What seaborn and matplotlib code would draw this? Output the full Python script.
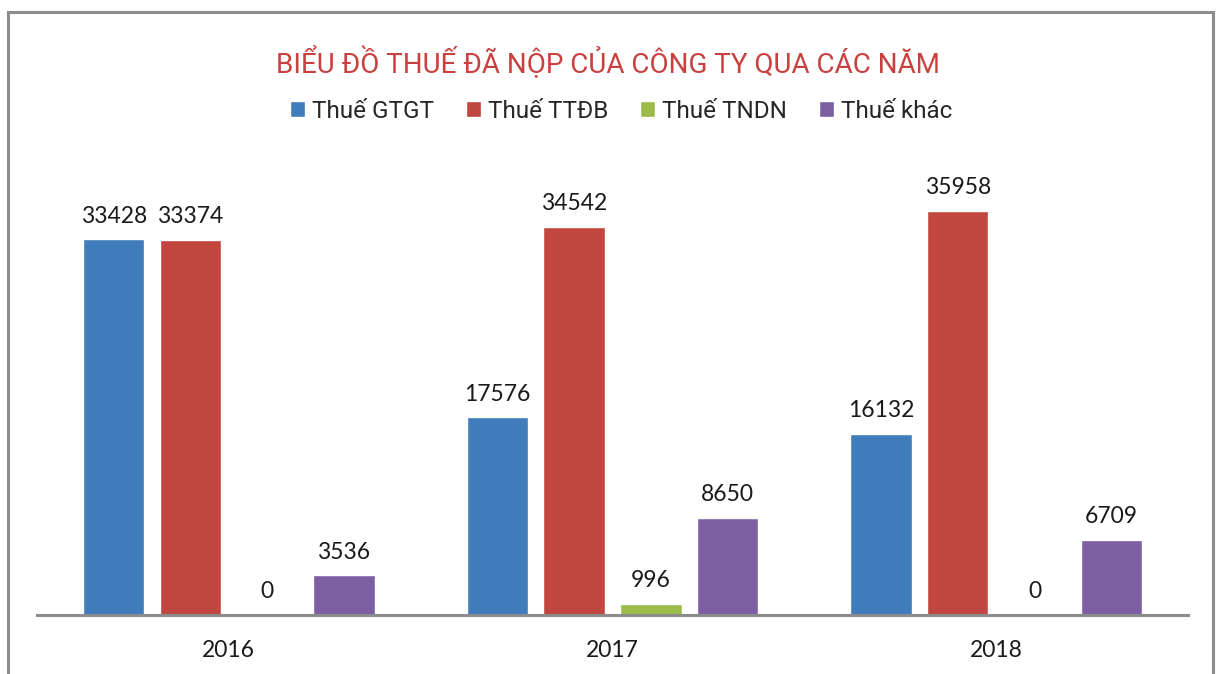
import matplotlib
matplotlib.use("Agg")
import matplotlib.pyplot as plt
from matplotlib.patches import Rectangle
import seaborn as sns
import pandas as pd

sns.set_style("white")
plt.rcParams['font.family'] = ['Lato', 'DejaVu Sans']

# data
years = ["2016", "2017", "2018"]
series = ["Thuế GTGT", "Thuế TTĐB", "Thuế TNDN", "Thuế khác"]
gtgt = [33428, 17576, 16132]
ttdb = [33374, 34542, 35958]
tndn = [0, 996, 0]
khac = [3536, 8650, 6709]
colors = ["#417CBD", "#C1463F", "#9BBB4B", "#7C5FA1"]

rows = []
for name, vals in zip(series, [gtgt, ttdb, tndn, khac]):
    for y, v in zip(years, vals):
        rows.append({"year": y, "tax": name, "value": v})
df = pd.DataFrame(rows)

fig = plt.figure(figsize=(12.21, 6.74), dpi=100)
ax = fig.add_axes([37 / 1221, 1 - 615 / 674, 1151 / 1221, 475 / 674])

sns.barplot(data=df, x="year", y="value", hue="tax", order=years,
            hue_order=series, palette=colors, width=0.8, gap=0.2,
            saturation=1, ax=ax, legend=True)

for cont in ax.containers:
    ax.bar_label(cont, fmt="%d", padding=9, fontsize=16.5, color="#1a1a1a")

ax.set_ylim(0, 42260)
ax.set_xlim(-0.5, 2.5)
ax.set_xlabel("")
ax.set_ylabel("")
ax.set_yticks([])
ax.tick_params(axis="x", length=0, pad=18, labelsize=16.5, labelcolor="#1a1a1a")
for s in ["top", "right", "left"]:
    ax.spines[s].set_visible(False)
ax.spines["bottom"].set_color("#8c8c8c")
ax.spines["bottom"].set_linewidth(2.2)

handles, labels = ax.get_legend_handles_labels()
ax.legend_.remove()
fig.legend(handles, labels, loc="center", bbox_to_anchor=(621 / 1221, 1 - 111 / 674),
           ncol=4, frameon=False, handlelength=0.62, handleheight=0.62,
           handletextpad=0.3, columnspacing=1.3,
           prop={"family": "Roboto", "size": 17.5})

fig.text(608 / 1221, 1 - 63 / 674, "BIỂU ĐỒ THUẾ ĐÃ NỘP CỦA CÔNG TY QUA CÁC NĂM",
         ha="center", va="center", color="#C9413F", fontsize=20, family="Roboto")

# outer chart frame (open at the bottom, cut by the picture)
fig.add_artist(Rectangle((8 / 1221, -0.1), 1205 / 1221, 1.1 - 12 / 674,
                         transform=fig.transFigure, fill=False,
                         edgecolor="#8c8c8c", linewidth=2.2))

fig.savefig("out.png", dpi=100)
